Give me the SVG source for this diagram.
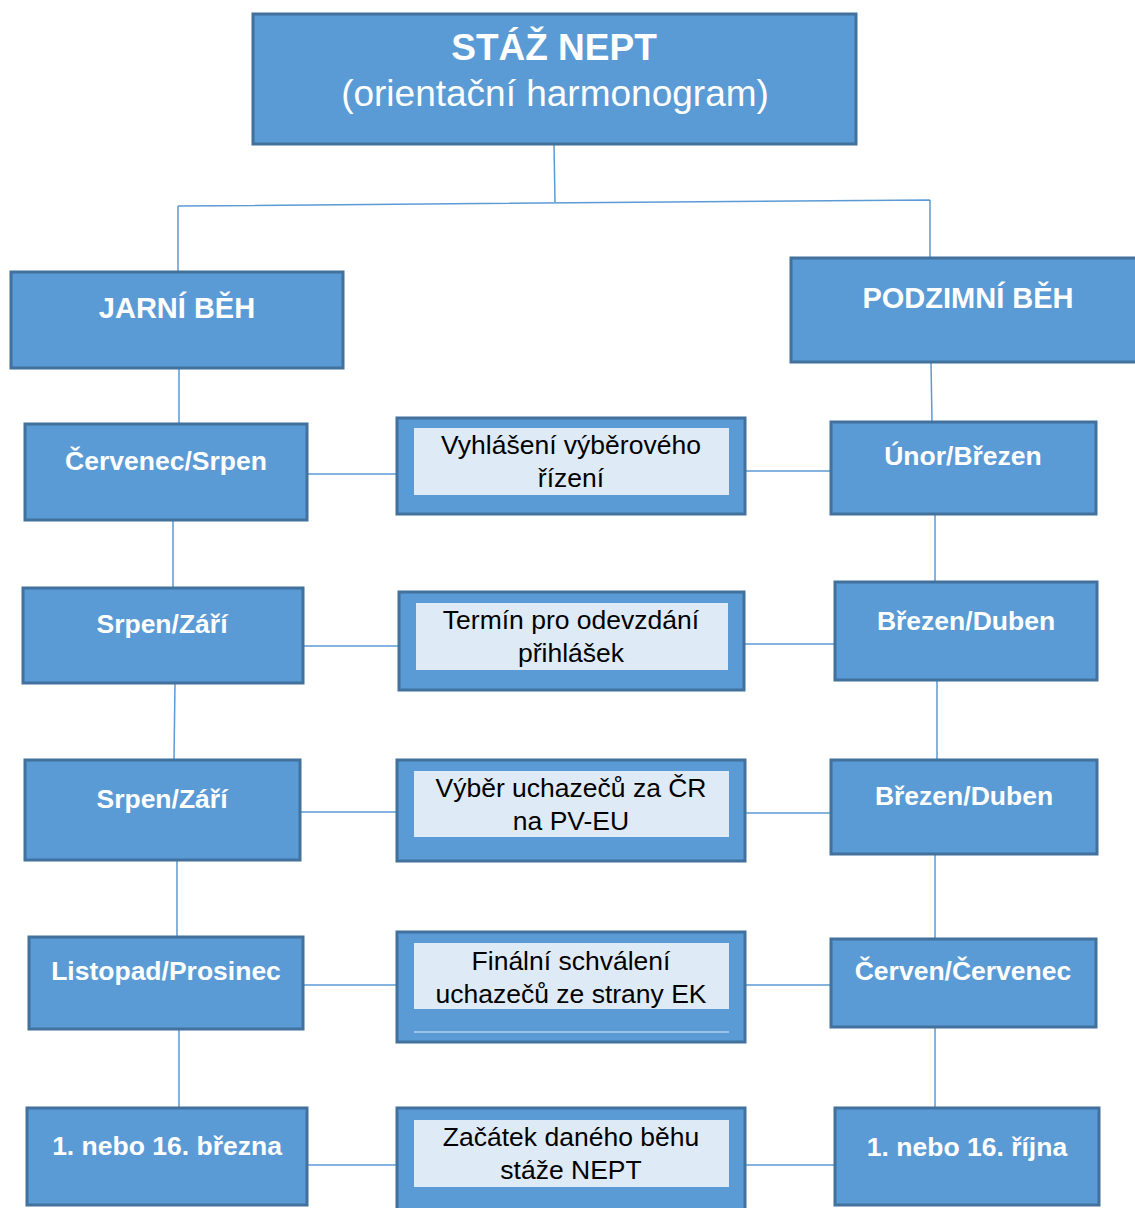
<svg xmlns="http://www.w3.org/2000/svg" width="1135" height="1208" viewBox="0 0 1135 1208">
<style>
.box{fill:#5B9BD5;stroke:#41719C;stroke-width:3}
.inner{fill:#DEEAF6}
.lbl{font-family:"Liberation Sans",Arial,sans-serif;font-weight:bold;font-size:26.5px;fill:#fff;text-anchor:middle}
.hdr{font-size:29px}
.mid{font-family:"Liberation Sans",Arial,sans-serif;font-size:26.5px;fill:#000;text-anchor:middle}
.con{stroke:#5B9BD5;stroke-width:1.5;fill:none}
</style>
<rect width="1135" height="1208" fill="#fff"/>
<g id="connectors">
<path class="con" d="M554,144 L555,202 M178,206 L930,200 M178,206 L178,272 M930,200 L930,258"/>
<path class="con" d="M179,368 L179,424 M173,520 L173,588 M175,683 L174,760 M177,860 L177,937 M179,1029 L179,1108"/>
<path class="con" d="M931,362 L932,422 M935,514 L935,582 M937,680 L937,760 M935,854 L935,939 M935,1027 L935,1108"/>
<path class="con" d="M307,474 L397,474 M745,471 L831,471 M303,646 L399,646 M744,644 L835,644 M300,812 L397,812 M745,813 L831,813 M303,985 L397,985 M745,985 L831,985 M307,1165 L397,1165 M745,1165 L835,1165"/>
</g>
<g id="title">
<rect class="box" x="253" y="14" width="603" height="130"/>
<text x="554" y="60" font-family="Liberation Sans,Arial,sans-serif" font-weight="bold" font-size="37" fill="#fff" text-anchor="middle">STÁŽ NEPT</text>
<text x="555" y="106" font-family="Liberation Sans,Arial,sans-serif" font-size="37" fill="#fff" text-anchor="middle">(orientační harmonogram)</text>
</g>
<g id="jarni"><rect class="box" x="11" y="272" width="332" height="96"/><text class="lbl hdr" x="177" y="318">JARNÍ BĚH</text></g>
<g id="podzimni"><rect class="box" x="791" y="258" width="346" height="104"/><text class="lbl hdr" x="968" y="308">PODZIMNÍ BĚH</text></g>
<g id="l1"><rect class="box" x="25" y="424" width="282" height="96"/><text class="lbl" x="166" y="470">Červenec/Srpen</text></g>
<g id="l2"><rect class="box" x="23" y="588" width="280" height="95"/><text class="lbl" x="162" y="633">Srpen/Září</text></g>
<g id="l3"><rect class="box" x="25" y="760" width="275" height="100"/><text class="lbl" x="162" y="808">Srpen/Září</text></g>
<g id="l4"><rect class="box" x="29" y="937" width="274" height="92"/><text class="lbl" x="166" y="980">Listopad/Prosinec</text></g>
<g id="l5"><rect class="box" x="27" y="1108" width="280" height="97"/><text class="lbl" x="167" y="1155">1. nebo 16. března</text></g>
<g id="m1"><rect class="box" x="397" y="418" width="348" height="96"/><rect class="inner" x="414" y="428" width="315" height="67"/><text class="mid" x="571" y="454">Vyhlášení výběrového</text><text class="mid" x="571" y="487">řízení</text></g>
<g id="m2"><rect class="box" x="399" y="592" width="345" height="98"/><rect class="inner" x="416" y="603" width="312" height="67"/><text class="mid" x="571" y="629">Termín pro odevzdání</text><text class="mid" x="571" y="662">přihlášek</text></g>
<g id="m3"><rect class="box" x="397" y="760" width="348" height="101"/><rect class="inner" x="414" y="771" width="315" height="66"/><text class="mid" x="571" y="797">Výběr uchazečů za ČR</text><text class="mid" x="571" y="830">na PV-EU</text></g>
<g id="m4"><rect class="box" x="397" y="932" width="348" height="110"/><rect class="inner" x="414" y="943" width="315" height="66"/><line x1="414" y1="1032" x2="729" y2="1032" stroke="#DEEAF6" stroke-width="1"/><text class="mid" x="571" y="970">Finální schválení</text><text class="mid" x="571" y="1003">uchazečů ze strany EK</text></g>
<g id="m5"><rect class="box" x="397" y="1108" width="348" height="102"/><rect class="inner" x="414" y="1120" width="315" height="67"/><text class="mid" x="571" y="1146">Začátek daného běhu</text><text class="mid" x="571" y="1179">stáže NEPT</text></g>
<g id="r1"><rect class="box" x="831" y="422" width="265" height="92"/><text class="lbl" x="963" y="465">Únor/Březen</text></g>
<g id="r2"><rect class="box" x="835" y="582" width="262" height="98"/><text class="lbl" x="966" y="630">Březen/Duben</text></g>
<g id="r3"><rect class="box" x="831" y="760" width="266" height="94"/><text class="lbl" x="964" y="805">Březen/Duben</text></g>
<g id="r4"><rect class="box" x="831" y="939" width="265" height="88"/><text class="lbl" x="963" y="980">Červen/Červenec</text></g>
<g id="r5"><rect class="box" x="835" y="1108" width="264" height="97"/><text class="lbl" x="967" y="1156">1. nebo 16. října</text></g>
</svg>
